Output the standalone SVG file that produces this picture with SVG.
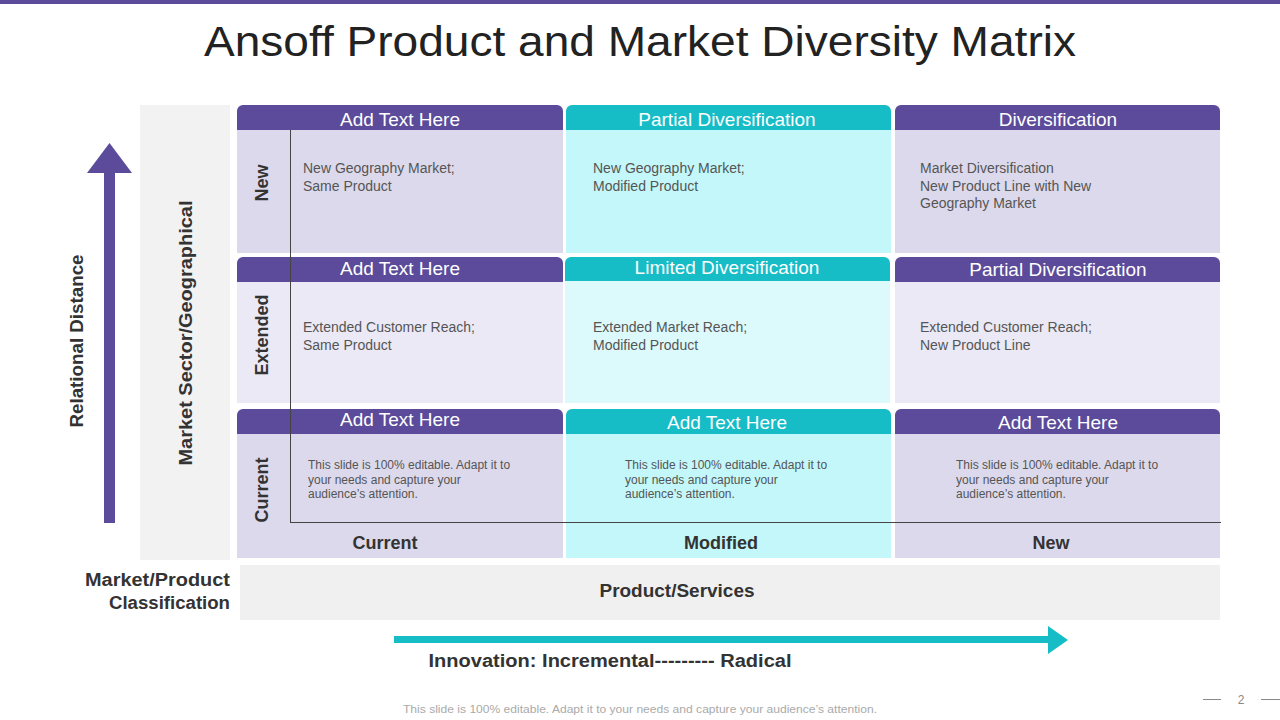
<svg xmlns="http://www.w3.org/2000/svg" width="1280" height="720" viewBox="0 0 1280 720">
<defs>
<style>
.t{font-family:"Liberation Sans",Arial,sans-serif}
.title{font-size:42px;fill:#222}
.hd{font-size:19px;fill:#fff;text-anchor:middle}
.lbl{font-size:18px;font-weight:bold;fill:#333;text-anchor:middle}
.body{font-size:14px;fill:#555}
.small{font-size:12px;fill:#555}
.pur{fill:#5b4b9a}
.tea{fill:#16bcc6}
.lv{fill:#dcd9ec}
.lv2{fill:#ebe9f5}
.cy{fill:#c3f7fa}
.cy2{fill:#dcfafc}
</style>
</defs>
<rect width="1280" height="720" fill="#fff"/>
<rect x="0" y="0" width="1280" height="4" fill="#5b4b9a"/>
<text class="t title" x="640" y="56" text-anchor="middle" textLength="872" lengthAdjust="spacingAndGlyphs">Ansoff Product and Market Diversity Matrix</text>

<g id="left-axis">
<rect x="140" y="105" width="90" height="455" fill="#f2f2f2"/>
<rect x="104" y="170" width="11" height="353" class="pur"/>
<polygon points="87,173 109.5,143 132,173" class="pur"/>
<text class="t lbl" transform="translate(83,341) rotate(-90)" textLength="173" lengthAdjust="spacingAndGlyphs">Relational Distance</text>
<text class="t lbl" transform="translate(192,333) rotate(-90)" textLength="265" lengthAdjust="spacingAndGlyphs">Market Sector/Geographical</text>
</g>

<g id="cell-1-1">
<rect x="237" y="130" width="326" height="123" class="lv"/>
<path d="M237,130 V111 a6,6 0 0 1 6,-6 H557 a6,6 0 0 1 6,6 V130 Z" class="pur"/>
<text class="t hd" x="400" y="126">Add Text Here</text>
<text class="t body" x="303" y="173">New Geography Market;</text>
<text class="t body" x="303" y="191">Same Product</text>
</g>
<g id="cell-1-2">
<rect x="566" y="130" width="325" height="123" class="cy"/>
<path d="M566,130 V111 a6,6 0 0 1 6,-6 H885 a6,6 0 0 1 6,6 V130 Z" class="tea"/>
<text class="t hd" x="727" y="126">Partial Diversification</text>
<text class="t body" x="593" y="173">New Geography Market;</text>
<text class="t body" x="593" y="191">Modified Product</text>
</g>
<g id="cell-1-3">
<rect x="895" y="130" width="325" height="123" class="lv"/>
<path d="M895,130 V111 a6,6 0 0 1 6,-6 H1214 a6,6 0 0 1 6,6 V130 Z" class="pur"/>
<text class="t hd" x="1058" y="126">Diversification</text>
<text class="t body" x="920" y="173">Market Diversification</text>
<text class="t body" x="920" y="191">New Product Line with New</text>
<text class="t body" x="920" y="208">Geography Market</text>
</g>

<g id="cell-2-1">
<rect x="237" y="282" width="326" height="121" class="lv2"/>
<path d="M237,282 V263 a6,6 0 0 1 6,-6 H557 a6,6 0 0 1 6,6 V282 Z" class="pur"/>
<text class="t hd" x="400" y="275">Add Text Here</text>
<text class="t body" x="303" y="332">Extended Customer Reach;</text>
<text class="t body" x="303" y="350">Same Product</text>
</g>
<g id="cell-2-2">
<rect x="565" y="281" width="325" height="122" class="cy2"/>
<path d="M565,281 V263 a6,6 0 0 1 6,-6 H884 a6,6 0 0 1 6,6 V281 Z" class="tea"/>
<text class="t hd" x="727" y="274">Limited Diversification</text>
<text class="t body" x="593" y="332">Extended Market Reach;</text>
<text class="t body" x="593" y="350">Modified Product</text>
</g>
<g id="cell-2-3">
<rect x="895" y="282" width="325" height="121" class="lv2"/>
<path d="M895,282 V263 a6,6 0 0 1 6,-6 H1214 a6,6 0 0 1 6,6 V282 Z" class="pur"/>
<text class="t hd" x="1058" y="276">Partial Diversification</text>
<text class="t body" x="920" y="332">Extended Customer Reach;</text>
<text class="t body" x="920" y="350">New Product Line</text>
</g>

<g id="cell-3-1">
<rect x="237" y="434" width="326" height="124" class="lv"/>
<path d="M237,434 V415 a6,6 0 0 1 6,-6 H557 a6,6 0 0 1 6,6 V434 Z" class="pur"/>
<text class="t hd" x="400" y="426">Add Text Here</text>
<text class="t small" x="308" y="469">This slide is 100% editable. Adapt it to</text>
<text class="t small" x="308" y="484">your needs and capture your</text>
<text class="t small" x="308" y="498">audience’s attention.</text>
</g>
<g id="cell-3-2">
<rect x="566" y="434" width="325" height="124" class="cy"/>
<path d="M566,434 V415 a6,6 0 0 1 6,-6 H885 a6,6 0 0 1 6,6 V434 Z" class="tea"/>
<text class="t hd" x="727" y="429">Add Text Here</text>
<text class="t small" x="625" y="469">This slide is 100% editable. Adapt it to</text>
<text class="t small" x="625" y="484">your needs and capture your</text>
<text class="t small" x="625" y="498">audience’s attention.</text>
</g>
<g id="cell-3-3">
<rect x="895" y="434" width="325" height="124" class="lv"/>
<path d="M895,434 V415 a6,6 0 0 1 6,-6 H1214 a6,6 0 0 1 6,6 V434 Z" class="pur"/>
<text class="t hd" x="1058" y="429">Add Text Here</text>
<text class="t small" x="956" y="469">This slide is 100% editable. Adapt it to</text>
<text class="t small" x="956" y="484">your needs and capture your</text>
<text class="t small" x="956" y="498">audience’s attention.</text>
</g>

<g id="axes">
<line x1="290.5" y1="130" x2="290.5" y2="522" stroke="#444" stroke-width="1"/>
<line x1="290" y1="522.5" x2="1221" y2="522.5" stroke="#444" stroke-width="1"/>
</g>

<g id="row-labels">
<text class="t lbl" transform="translate(268,183) rotate(-90)">New</text>
<text class="t lbl" transform="translate(268,335) rotate(-90)">Extended</text>
<text class="t lbl" transform="translate(268,490) rotate(-90)">Current</text>
</g>
<g id="col-labels">
<text class="t lbl" x="385" y="549">Current</text>
<text class="t lbl" x="721" y="549">Modified</text>
<text class="t lbl" x="1051" y="549">New</text>
</g>

<g id="bottom">
<rect x="240" y="565" width="980" height="55" fill="#f0f0f0"/>
<text class="t lbl" x="677" y="597" textLength="155" lengthAdjust="spacingAndGlyphs">Product/Services</text>
<text class="t lbl" x="230" y="586" style="text-anchor:end" textLength="145" lengthAdjust="spacingAndGlyphs">Market/Product</text>
<text class="t lbl" x="230" y="609" style="text-anchor:end" textLength="121" lengthAdjust="spacingAndGlyphs">Classification</text>
<rect x="394" y="636" width="656" height="7" class="tea"/>
<polygon points="1048,626 1068,640 1048,654" class="tea"/>
<text class="t lbl" x="610" y="667" textLength="363" lengthAdjust="spacingAndGlyphs">Innovation: Incremental--------- Radical</text>
</g>

<g id="footer">
<text class="t" x="640" y="713" font-size="11" fill="#aaa" text-anchor="middle" textLength="474" lengthAdjust="spacingAndGlyphs">This slide is 100% editable. Adapt it to your needs and capture your audience’s attention.</text>
<line x1="1203" y1="699.5" x2="1221" y2="699.5" stroke="#888" stroke-width="1"/>
<line x1="1261" y1="699.5" x2="1280" y2="699.5" stroke="#888" stroke-width="1"/>
<text class="t" x="1241" y="704" font-size="12" fill="#888" text-anchor="middle">2</text>
</g>
</svg>
